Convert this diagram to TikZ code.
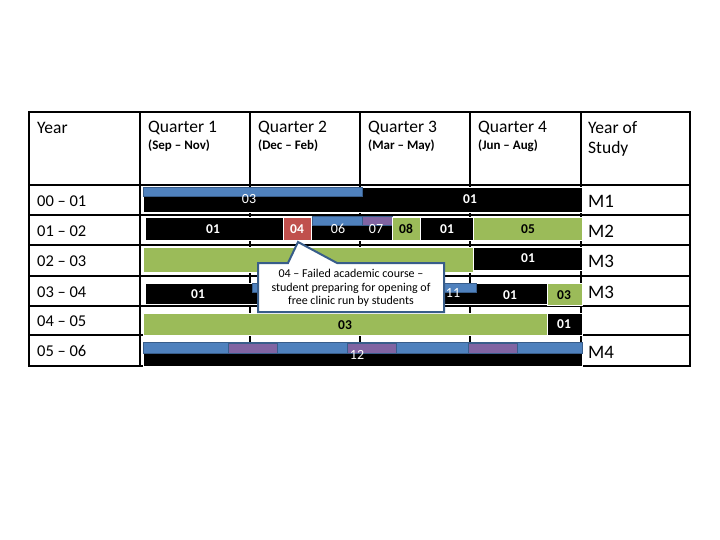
\documentclass[tikz,border=0pt]{standalone}
\usepackage{fontspec}
\setmainfont{Carlito}
\usepackage{xcolor}
\usepackage{tikz}
\usetikzlibrary{positioning, calc}

\definecolor{barblue}{HTML}{4F81BD}
\definecolor{bargreen}{HTML}{9BBB59}
\definecolor{barred}{HTML}{C0504D}
\definecolor{barpurple}{HTML}{8064A2}
\definecolor{edgeblue}{HTML}{385D8A}

\begin{document}
\begin{tikzpicture}[
    x=1pt, y=-1pt,
    gridline/.style={line width=1.6pt, black},
    blackbar/.style={fill=black, draw=white, line width=0.6pt},
    greenbar/.style={fill=bargreen, draw=white, line width=0.6pt},
    redbar/.style={fill=barred, draw=white, line width=0.6pt},
    bluebar/.style={fill=barblue, draw=edgeblue, line width=0.8pt},
    purplebar/.style={fill=barpurple, draw=edgeblue, line width=0.8pt},
    head/.style={anchor=west, font=\fontsize{17.5}{19}\selectfont, inner sep=0pt},
    sub/.style={anchor=west, font=\fontsize{13}{15}\selectfont\bfseries, inner sep=0pt},
    yrlbl/.style={anchor=west, font=\fontsize{16.5}{18}\selectfont, inner sep=0pt},
    mlbl/.style={anchor=west, font=\fontsize{19}{21}\selectfont, inner sep=0pt},
    wlbl/.style={font=\fontsize{14}{16}\selectfont, text=white, inner sep=0pt},
    wblbl/.style={font=\fontsize{13.5}{15}\selectfont\bfseries, text=white, inner sep=0pt},
    kblbl/.style={font=\fontsize{13.5}{15}\selectfont\bfseries, text=black, inner sep=0pt}
]
    \useasboundingbox (0,0) rectangle (720,540);
    \fill[white] (0,0) rectangle (720,540);

    % table grid
    \draw[gridline] (29,112) rectangle (690,366);
    \foreach \gx in {140,250,360,470,581}
        \draw[gridline] (\gx,112) -- (\gx,366);
    \foreach \gy in {185,215,245,276,306,335}
        \draw[gridline] (29,\gy) -- (690,\gy);

    % header
    \node[head] (hyear) at (37,128) {Year};
    \node[head] (hq1) at (148,128) {Quarter 1};
    \node[head] (hq2) at (258,128) {Quarter 2};
    \node[head] (hq3) at (368,128) {Quarter 3};
    \node[head] (hq4) at (478,128) {Quarter 4};
    \node[sub] (sq1) at (148,146) {(Sep -- Nov)};
    \node[sub] (sq2) at (258,146) {(Dec -- Feb)};
    \node[sub] (sq3) at (368,146) {(Mar -- May)};
    \node[sub] (sq4) at (478,146) {(Jun -- Aug)};
    \node[head] (hstudy1) at (588,128) {Year of};
    \node[head] (hstudy2) at (588,149) {Study};

    % years
    \node[yrlbl] (y0) at (37,201) {00 -- 01};
    \node[yrlbl] (y1) at (37,231) {01 -- 02};
    \node[yrlbl] (y2) at (37,261) {02 -- 03};
    \node[yrlbl] (y3) at (37,292) {03 -- 04};
    \node[yrlbl] (y4) at (37,321) {04 -- 05};
    \node[yrlbl] (y5) at (37,351) {05 -- 06};

    % year of study
    \node[mlbl] (m0) at (588,201) {M1};
    \node[mlbl] (m1) at (588,231) {M2};
    \node[mlbl] (m2) at (588,261) {M3};
    \node[mlbl] (m3) at (588,292) {M3};
    \node[mlbl] (m5) at (588,352) {M4};

    % 00 - 01
    \draw[blackbar] (143,187) rectangle (582,212);
    \draw[bluebar] (143,187) rectangle (362,196);
    \node[wlbl] (a03) at (249,199) {03};
    \node[wblbl] (a01) at (470,199) {01};

    % 01 - 02
    \draw[blackbar] (145,217) rectangle (283,240);
    \draw[redbar] (283,217) rectangle (311,240);
    \draw[blackbar] (311,217) rectangle (392,240);
    \draw[bluebar] (312,216) rectangle (362,225);
    \draw[purplebar] (362,216) rectangle (392,225);
    \draw[greenbar] (392,217) rectangle (420,240);
    \draw[blackbar] (420,217) rectangle (473,240);
    \draw[greenbar] (473,217) rectangle (582,240);
    \node[wblbl] (b01) at (213,229) {01};
    \node[wblbl] (b04) at (297,229) {04};
    \node[wlbl] (b06) at (338,229) {06};
    \node[wlbl] (b07) at (376,229) {07};
    \node[kblbl] (b08) at (406,229) {08};
    \node[wblbl] (b01b) at (447,229) {01};
    \node[kblbl] (b05) at (528,229) {05};

    % 02 - 03
    \draw[greenbar] (143,247) rectangle (473,272);
    \draw[blackbar] (473,247) rectangle (582,270);
    \node[wblbl] (c01) at (528,258) {01};

    % 03 - 04
    \draw[blackbar] (145,283) rectangle (547,304);
    \draw[bluebar] (252,283) rectangle (476,292);
    \draw[greenbar] (547,283) rectangle (582,305);
    \node[wblbl] (d01) at (198,294) {01};
    \node[wlbl] (d11) at (453,293) {11};
    \node[wblbl] (d01b) at (510,295) {01};
    \node[kblbl] (d03) at (564,295) {03};

    % 04 - 05
    \draw[greenbar] (143,313) rectangle (547,335);
    \draw[blackbar] (547,313) rectangle (582,335);
    \node[kblbl] (e03) at (345,325) {03};
    \node[wblbl] (e01) at (564,324) {01};

    % 05 - 06
    \draw[blackbar] (143,342) rectangle (582,366);
    \draw[bluebar] (143,342) rectangle (582,353);
    \foreach \px in {228,347,468}
        \draw[purplebar] (\px,343) rectangle ($(\px,353)+(49,0)$);
    \node[wlbl] (f12) at (357,355) {12};

    % callout for the failed course
    \draw[fill=white, draw=edgeblue, line width=2pt, line join=miter]
        (258,263) -- (288,263) -- (298,242) -- (337,263) -- (444,263)
        -- (444,312) -- (258,312) -- cycle;
    \node[align=center, inner sep=0pt, font=\fontsize{12}{13.5}\selectfont] (note) at (351,288)
        {04 -- Failed academic course --\\student preparing for opening of\\free clinic run by students};
\end{tikzpicture}
\end{document}
